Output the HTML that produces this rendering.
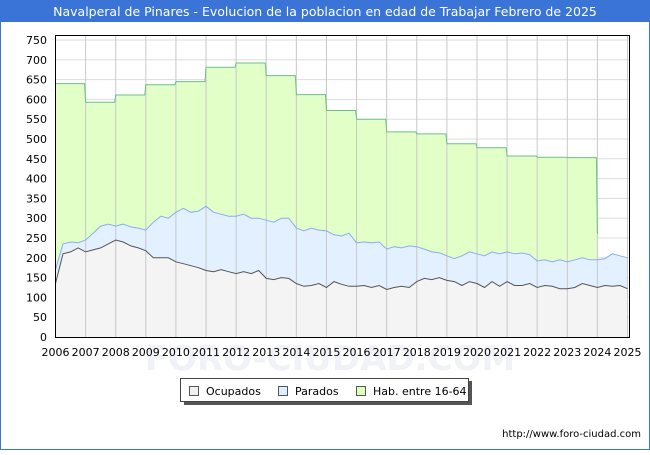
<!DOCTYPE html>
<html><head><meta charset="utf-8"><style>
body{margin:0;background:#fff;}
svg text{font-family:"DejaVu Sans","Liberation Sans",sans-serif;}
</style></head><body>
<svg width="650" height="450" viewBox="0 0 650 450" xmlns="http://www.w3.org/2000/svg">
<rect x="0.5" y="0.5" width="649" height="449" fill="#fff" stroke="#3a74d6"/>
<rect x="0" y="0" width="650" height="22" fill="#3a74d6"/>
<text x="325" y="16" text-anchor="middle" font-size="12.5" fill="#fff">Navalperal de Pinares - Evolucion de la poblacion en edad de Trabajar Febrero de 2025</text>
<text x="330" y="370" text-anchor="middle" font-size="34" font-weight="bold" fill="#f0f2f8">FORO-CIUDAD.COM</text>
<g id="grid"></g>
<g id="series"></g>
<g id="axes"></g>
<rect x="55.5" y="35.5" width="574" height="302" fill="none" stroke="#000"/>
<rect x="184" y="381" width="288" height="24" fill="#555"/>
<rect x="180.5" y="378.5" width="288" height="23" fill="#fff" stroke="#444"/>
<g><rect x="189.5" y="386.5" width="9" height="9" fill="#f0f0f0" stroke="#555"/><text x="206" y="395" font-size="11">Ocupados</text></g>
<g><rect x="278.5" y="386.5" width="9" height="9" fill="#ddeeff" stroke="#555"/><text x="295" y="395" font-size="11">Parados</text></g>
<g><rect x="356.5" y="386.5" width="9" height="9" fill="#ddffbb" stroke="#555"/><text x="373" y="395" font-size="11">Hab. entre 16-64</text></g>
<text x="641" y="437" text-anchor="end" font-size="10" fill="#000">http://www.foro-ciudad.com</text>
</svg>
<script>
const years=[2006,2007,2008,2009,2010,2011,2012,2013,2014,2015,2016,2017,2018,2019,2020,2021,2022,2023,2024,2025];
const yTicks=[0,50,100,150,200,250,300,350,400,450,500,550,600,650,700,750];
const habYearly=[640,593,611,637,645,681,692,660,612,572,550,518,513,488,478,457,454,453];
const habEnd=260;
const parados=[170,235,240,238,245,262,280,285,280,285,278,275,270,290,305,300,315,325,315,318,330,315,310,305,305,310,300,300,295,290,300,300,275,268,275,270,268,258,255,262,238,240,238,240,222,228,225,230,228,222,215,213,205,198,205,215,210,205,215,210,215,210,212,208,192,195,190,195,190,195,200,195,195,198,210,205,200];
const ocupados=[135,210,215,225,215,220,225,235,245,240,230,225,218,200,200,200,190,185,180,175,168,165,170,165,160,165,160,168,148,145,150,148,135,128,130,135,125,140,133,128,128,130,125,130,120,125,128,125,140,148,145,150,143,140,130,140,135,125,140,128,140,130,130,135,125,130,128,122,122,125,135,130,125,130,128,130,122];
const X0=55.5,X1=627.5,Y0=337,Y1=40;
const xs=t=>X0+(t-2006)/(2025-2006)*(X1-X0);
const ys=v=>Y0+(v/750)*(Y1-Y0);
const NS="http://www.w3.org/2000/svg";
function mk(tag,attrs,parent){const e=document.createElementNS(NS,tag);for(const k in attrs)e.setAttribute(k,attrs[k]);parent.appendChild(e);return e;}
const grid=document.getElementById('grid'),ser=document.getElementById('series'),ax=document.getElementById('axes');
yTicks.forEach(v=>{
 const l=mk('line',{x1:55,x2:630,y1:ys(v),y2:ys(v),stroke:'#dddddd'},grid);
 
 
 const t=mk('text',{x:47,y:ys(v)+4,'text-anchor':'end','font-size':'11'},ax);
 t.textContent=v;
 
 
});
// hab path
let hp=[];
habYearly.forEach((v,i)=>{const y=years[i];if(i>0)hp.push([xs(y)+0.01,ys(v)]);else hp.push([xs(y),ys(v)]);hp.push([xs(y+1)-1,ys(v)]);});
hp.push([xs(2024),ys(habEnd)]);
const habLine='M'+hp.map(p=>p[0].toFixed(1)+','+p[1].toFixed(1)).join(' L');
const habArea=mk('path',{d:habLine+` L${xs(2024)},${Y0} L${X0},${Y0} Z`,fill:'#e3ffc8'},ser);


const q=i=>2006+i/4;
const pPts=parados.map((v,i)=>xs(q(i)).toFixed(1)+','+ys(v).toFixed(1));
const oPts=ocupados.map((v,i)=>xs(q(i)).toFixed(1)+','+ys(v).toFixed(1));
const pa=mk('path',{d:'M'+pPts.join(' L')+` L${xs(q(parados.length-1))},${Y0} L${X0},${Y0} Z`,fill:'#e2f0ff'},ser);


const oa=mk('path',{d:'M'+oPts.join(' L')+` L${xs(q(ocupados.length-1))},${Y0} L${X0},${Y0} Z`,fill:'#f4f4f4'},ser);


years.forEach(y=>{
 const l=mk('line',{x1:xs(y),x2:xs(y),y1:36,y2:337,stroke:'#c8c8c8'},ser);
 
 
 const t=mk('text',{x:xs(y),y:356,'text-anchor':'middle','font-size':'11'},ax);
 t.textContent=y;
 
 
});
const hl=mk('path',{d:habLine,fill:'none',stroke:'#6cbf8a','stroke-width':1},ser);


const pl=mk('path',{d:'M'+pPts.join(' L'),fill:'none',stroke:'#8aaef0','stroke-width':1},ser);


const ol=mk('path',{d:'M'+oPts.join(' L'),fill:'none',stroke:'#555','stroke-width':1},ser);


</script>
</body></html>
